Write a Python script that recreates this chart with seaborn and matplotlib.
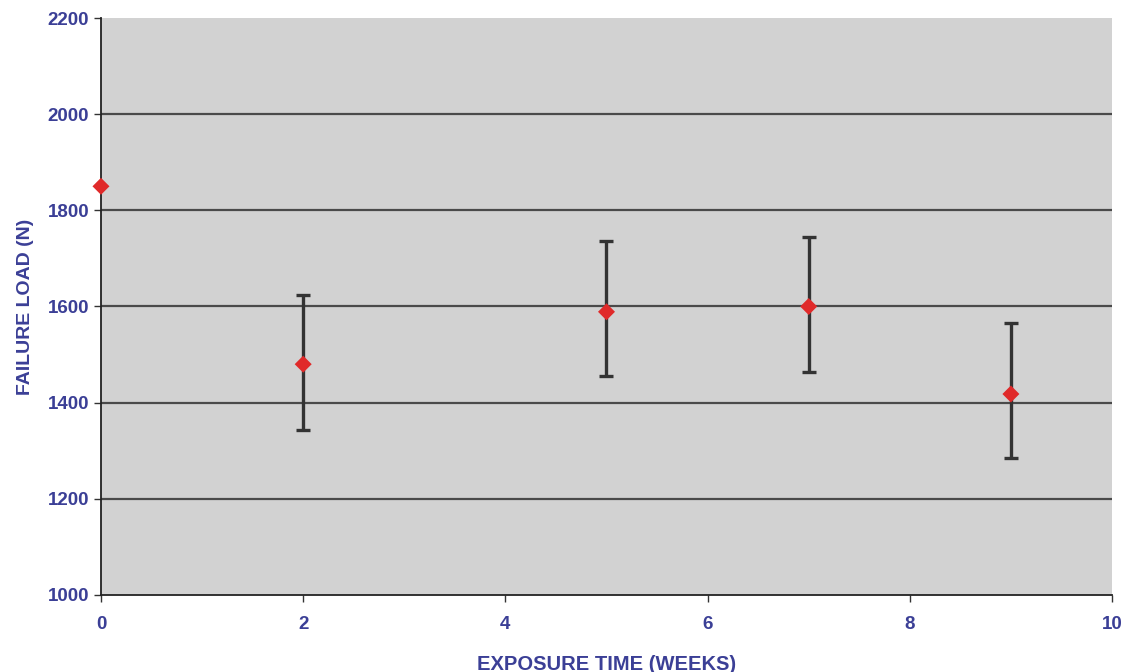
import numpy as np
import pandas as pd
import matplotlib
matplotlib.use("Agg")
import matplotlib.pyplot as plt
import seaborn as sns

# values
weeks = [0, 2, 5, 7, 9]
load_mean = [1850, 1480, 1589, 1600, 1418]
load_low = [1850, 1343, 1455, 1464, 1285]
load_high = [1850, 1624, 1736, 1745, 1566]

y_ticks = [1000, 1200, 1400, 1600, 1800, 2000, 2200]
x_ticks = [0, 2, 4, 6, 8, 10]

df = pd.DataFrame({"week": weeks, "load": load_mean,
                   "low": load_low, "high": load_high})

sns.set_style("white")
plt.rcParams['font.family'] = ['Liberation Sans', 'DejaVu Sans']

blue = "#3b3f96"
fig = plt.figure(figsize=(11.27, 6.72), dpi=100)
ax = fig.add_axes([0.0896, 0.1146, 0.8971, 0.8586])
ax.set_facecolor("#d2d2d2")

# horizontal gridlines
for yv in y_ticks[1:-1]:
    ax.axhline(yv, color="#4a4a4a", lw=1.6, zorder=1)

# error bars (asymmetric)
has_err = df["high"] > df["low"]
sub = df[has_err]
ax.errorbar(sub["week"], sub["load"],
            yerr=[sub["load"] - sub["low"], sub["high"] - sub["load"]],
            fmt="none", ecolor="#333333", elinewidth=2.4, capsize=5,
            capthick=2.4, zorder=2)

sns.scatterplot(data=df, x="week", y="load", marker="D", s=75,
                color="#e02a2a", edgecolor="none", ax=ax, zorder=3)
for coll in ax.collections:
    coll.set_clip_on(False)

ax.set_xlim(0, 10)
ax.set_ylim(1000, 2200)
ax.set_xticks(x_ticks)
ax.set_yticks(y_ticks)
ax.tick_params(axis="both", bottom=True, left=True, colors="#333333",
               labelcolor=blue, labelsize=13.5, direction="out",
               length=5, width=1)
ax.tick_params(axis="x", pad=10)
for lab in ax.get_xticklabels() + ax.get_yticklabels():
    lab.set_fontweight("bold")

for side in ["top", "right"]:
    ax.spines[side].set_visible(False)
for side in ["left", "bottom"]:
    ax.spines[side].set_color("#222222")
    ax.spines[side].set_linewidth(1.3)

ax.set_xlabel("EXPOSURE TIME (WEEKS)", color=blue, fontsize=14.5,
              fontweight="bold", labelpad=16)
ax.set_ylabel("FAILURE LOAD (N)", color=blue, fontsize=14,
              fontweight="bold", labelpad=10)

fig.savefig("out.png", dpi=100)
